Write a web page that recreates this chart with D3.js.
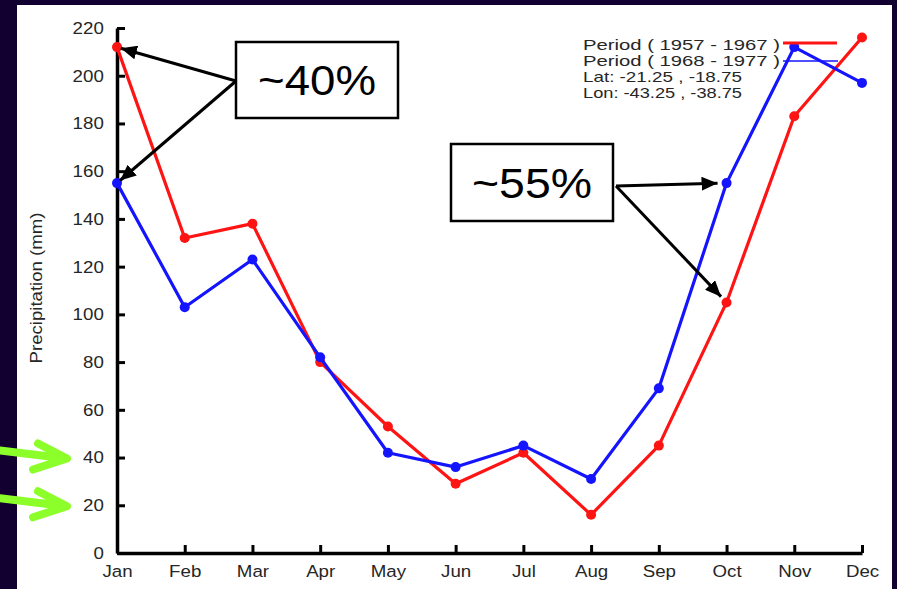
<!DOCTYPE html>
<html>
<head>
<meta charset="utf-8">
<script src="https://cdn.jsdelivr.net/npm/d3@7"></script>
<style>
  html, body { margin: 0; padding: 0; background: #110030; }
  svg { display: block; font-family: "Liberation Sans", Arial, Helvetica, sans-serif; }
</style>
</head>
<body>
<script>
// values
const months = ["Jan", "Feb", "Mar", "Apr", "May", "Jun", "Jul", "Aug", "Sep", "Oct", "Nov", "Dec"];
const period1957 = [212, 132, 138, 80, 53, 29, 42, 16, 45, 105, 183, 216];
const period1968 = [155, 103, 123, 82, 42, 36, 45, 31, 69, 155, 212, 197];
const yTicks = [0, 20, 40, 60, 80, 100, 120, 140, 160, 180, 200, 220];
const legendLines = ["Period ( 1957 - 1967 )", "Period ( 1968 - 1977 )", "Lat: -21.25 , -18.75", "Lon: -43.25 , -38.75"];
const legendWidths = [197, 197, 159, 159];
const greenTargets = [40, 20];

const width = 897, height = 589;
const red = "#ff1414", blue = "#1414ff";

const svg = d3.select("body").append("svg")
  .attr("width", width)
  .attr("height", height);

svg.append("rect").attr("width", width).attr("height", height).attr("fill", "#110030");
svg.append("rect").attr("x", 17).attr("y", 5).attr("width", 875).attr("height", 584).attr("fill", "#fff");

const x = d3.scalePoint(months, [117, 862]);
const y = d3.scaleLinear([0, 220], [553, 28]);

// axes, ticks pointing inward
const yAxis = svg.append("g")
  .attr("transform", `translate(${x("Jan")},0)`)
  .call(d3.axisLeft(y).tickValues(yTicks).tickSizeInner(-8).tickSizeOuter(0).tickPadding(12));

const xAxis = svg.append("g")
  .attr("transform", `translate(0,${y(0)})`)
  .call(d3.axisBottom(x).tickSizeInner(-8).tickSizeOuter(0).tickPadding(12));

[yAxis, xAxis].forEach(g => {
  g.select(".domain").attr("stroke", "#000").attr("stroke-width", 3.5);
  g.selectAll(".tick line").attr("stroke", "#000").attr("stroke-width", 3);
  g.selectAll(".tick text")
    .attr("fill", "#262626")
    .attr("font-size", 17)
    .attr("font-family", "Liberation Sans, Arial, sans-serif")
    .attr("transform", "scale(1.1,1)");
});

svg.append("text")
  .attr("transform", "translate(42,288) rotate(-90)")
  .attr("text-anchor", "middle")
  .attr("font-size", 17)
  .attr("fill", "#262626")
  .attr("textLength", 151)
  .attr("lengthAdjust", "spacingAndGlyphs")
  .text("Precipitation (mm)");

// series
const line = d3.line().x((d, i) => x(months[i])).y(d => y(d));
[[period1957, red], [period1968, blue]].forEach(([vals, col]) => {
  svg.append("path")
    .datum(vals)
    .attr("fill", "none")
    .attr("stroke", col)
    .attr("stroke-width", 3.2)
    .attr("stroke-linejoin", "round")
    .attr("d", line);
  svg.append("g").selectAll("circle")
    .data(vals)
    .join("circle")
    .attr("cx", (d, i) => x(months[i]))
    .attr("cy", d => y(d))
    .attr("r", 5)
    .attr("fill", col);
});

// legend
const legend = svg.append("g");
legend.selectAll("text")
  .data(legendLines)
  .join("text")
  .attr("x", 583)
  .attr("y", (d, i) => 50 + i * 16)
  .attr("font-size", 15)
  .attr("fill", "#262626")
  .attr("textLength", (d, i) => legendWidths[i])
  .attr("lengthAdjust", "spacingAndGlyphs")
  .text(d => d);
legend.append("line").attr("x1", 783).attr("x2", 837).attr("y1", 43).attr("y2", 43)
  .attr("stroke", red).attr("stroke-width", 3);
legend.append("line").attr("x1", 783).attr("x2", 838).attr("y1", 61).attr("y2", 61)
  .attr("stroke", blue).attr("stroke-width", 1.5);

// annotations
const defs = svg.append("defs");
defs.append("marker")
  .attr("id", "head")
  .attr("markerUnits", "userSpaceOnUse")
  .attr("viewBox", "0 0 16 14")
  .attr("refX", 16).attr("refY", 7)
  .attr("markerWidth", 16).attr("markerHeight", 14)
  .attr("orient", "auto")
  .append("path").attr("d", "M0,0L16,7L0,14Z").attr("fill", "#000");

function arrow(x0, y0, px, py, gap) {
  const dx = px - x0, dy = py - y0, len = Math.hypot(dx, dy);
  svg.append("line")
    .attr("x1", x0).attr("y1", y0)
    .attr("x2", px - dx / len * gap).attr("y2", py - dy / len * gap)
    .attr("stroke", "#000").attr("stroke-width", 3)
    .attr("marker-end", "url(#head)");
}

function callout(bx, by, bw, bh, label, tw) {
  svg.append("rect")
    .attr("x", bx).attr("y", by).attr("width", bw).attr("height", bh)
    .attr("fill", "#fff").attr("stroke", "#000").attr("stroke-width", 2.5);
  svg.append("text")
    .attr("x", bx + bw / 2).attr("y", by + bh / 2 + 15)
    .attr("text-anchor", "middle")
    .attr("font-size", 42)
    .attr("fill", "#000")
    .attr("textLength", tw)
    .attr("lengthAdjust", "spacingAndGlyphs")
    .text(label);
}

arrow(236, 81, x("Jan"), y(period1957[0]), 4);
arrow(236, 81, x("Jan"), y(period1968[0]), 4);
callout(236, 42, 162, 76, "~40%", 118);

arrow(616, 186, x("Oct"), y(period1968[9]), 9);
arrow(616, 186, x("Oct"), y(period1957[9]), 8);
callout(451, 144, 162, 77, "~55%", 120);

// green pointers at the 40 and 20 ticks
greenTargets.forEach(v => {
  const ty = y(v) + 1;
  svg.append("path")
    .attr("d", `M0,${ty - 8}L66,${ty}M38,${ty - 15}L67,${ty}L33,${ty + 11}`)
    .attr("fill", "none")
    .attr("stroke", "#8cff2a")
    .attr("stroke-width", 8)
    .attr("stroke-linecap", "round")
    .attr("stroke-linejoin", "round");
});
</script>
</body>
</html>
